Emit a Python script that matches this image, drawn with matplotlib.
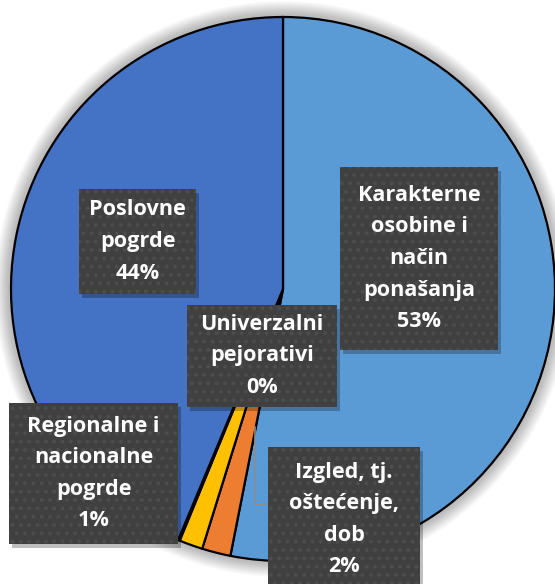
import matplotlib.pyplot as plt
from matplotlib.patches import Circle, Rectangle

# Udio kategorija pogrda (%)
kategorije = ['Karakterne\nosobine i\nnačin\nponašanja', 'Izgled, tj.\noštećenje,\ndob',
              'Regionalne i\nnacionalne\npogrde', 'Univerzalni\npejorativi', 'Poslovne\npogrde']
udjeli = [53.1, 1.7, 1.4, 0.1, 43.7]
boje = ['#5B9BD5', '#ED7D31', '#FFC000', '#A5A5A5', '#4472C4']

W, H = 555, 584
# pozicije okvira oznaka u pikselima: (x0, y0, x1, y1), y od vrha
okviri = [(340, 167, 498, 350), (268, 447, 420, 592), (9, 403, 178, 544),
          (187, 305, 337, 407), (79, 189, 196, 294)]

plt.rcParams['hatch.linewidth'] = 1.6

fig = plt.figure(figsize=(W / 100, H / 100), dpi=100)
ax = fig.add_axes([0, 0, 1, 1])

centar = (283, H - 289)
r = 272

# mekana sjena oko grafikona
for i in range(14):
    ax.add_patch(Circle(centar, r + 16 - i, color='black', alpha=0.018, lw=0, zorder=0))

ax.pie(udjeli, colors=boje, startangle=90, counterclock=False, center=centar, radius=r,
       wedgeprops=dict(edgecolor='black', linewidth=1.6), frame=True)

# linija vodilica za malu kategoriju
ax.plot([255, 255, 268], [H - 427, H - 504, H - 504], color='#8C8C8C', lw=1.2, zorder=3)

for naziv, v, (x0, y0, x1, y1) in zip(kategorije, udjeli, okviri):
    w, h = x1 - x0, y1 - y0
    ax.add_patch(Rectangle((x0 + 3, H - y1 - 4), w, h, facecolor='black', alpha=0.25,
                           lw=0, zorder=4))
    ax.add_patch(Rectangle((x0, H - y1), w, h, facecolor='#404040', lw=0, zorder=5))
    ax.add_patch(Rectangle((x0, H - y1), w, h, facecolor='none', edgecolor='#4d4d4d',
                           hatch='..', lw=0, zorder=5))
    tekst = f'{naziv}\n{v:.0f}%'
    ax.text(x0 + w / 2, H - (y0 + h / 2), tekst, ha='center', va='center',
            color='white', fontsize=15.6, fontweight='bold', family='Open Sans',
            linespacing=1.66, zorder=6)

ax.set_xlim(0, W)
ax.set_ylim(0, H)
ax.set_aspect('equal')
ax.axis('off')

fig.savefig('out.png', dpi=100, facecolor='white')
